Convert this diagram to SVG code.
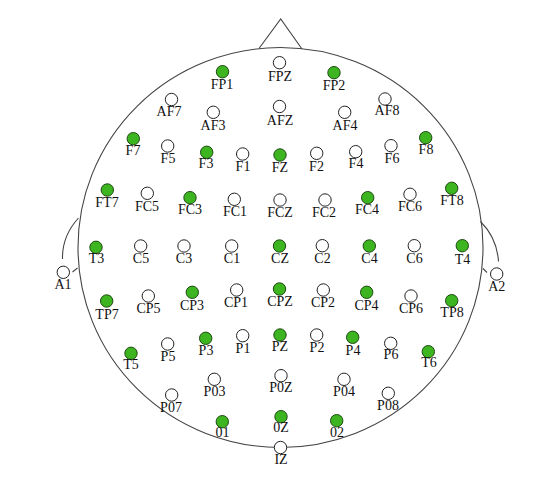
<svg xmlns="http://www.w3.org/2000/svg" width="546" height="481" viewBox="0 0 546 481">
<style>
.o{fill:#fff;stroke:#222;stroke-width:1}
.g{fill:#3cb521;stroke:#1e4a12;stroke-width:1}
.l{fill:none;stroke:#444;stroke-width:1.1}
text{font-family:"Liberation Serif","Times New Roman",serif;font-size:14px;fill:#111;text-anchor:middle}
</style>
<rect width="546" height="481" fill="#fff"/>
<g id="head">
<ellipse class="l" cx="280.5" cy="247.5" rx="202.5" ry="200"/>
<path class="l" d="M259,48.5 L280.7,19 L302,49"/>
<path class="l" d="M78.5,218 Q62,236 62.5,259"/>
<path class="l" d="M72.5,272 L77.5,268"/>
<path class="l" d="M480.5,221.5 Q497,238 498.5,261.5"/>
<path class="l" d="M483,268.5 L487,272.5"/>
</g>
<g id="connectors"></g>
<g id="FP1"><circle class="g" cx="222.5" cy="71.7" r="6.2"/><text x="222" y="89">FP1</text></g>
<g id="FPZ"><circle class="o" cx="279.5" cy="62.7" r="6.2"/><text x="280" y="81">FPZ</text></g>
<g id="FP2"><circle class="g" cx="334" cy="72.7" r="6.2"/><text x="334" y="90">FP2</text></g>
<g id="AF7"><circle class="o" cx="171.5" cy="99.5" r="6.2"/><text x="169" y="116">AF7</text></g>
<g id="AF3"><circle class="o" cx="213.3" cy="112.3" r="6.2"/><text x="213" y="130">AF3</text></g>
<g id="AFZ"><circle class="o" cx="279.5" cy="106.5" r="6.2"/><text x="280" y="125">AFZ</text></g>
<g id="AF4"><circle class="o" cx="344.7" cy="112.3" r="6.2"/><text x="345" y="130">AF4</text></g>
<g id="AF8"><circle class="o" cx="385" cy="99" r="6.2"/><text x="387" y="115">AF8</text></g>
<g id="F7"><circle class="g" cx="133.3" cy="138.7" r="6.2"/><text x="133" y="155">F7</text></g>
<g id="F5"><circle class="o" cx="167.7" cy="146" r="6.2"/><text x="168" y="163.3">F5</text></g>
<g id="F3"><circle class="g" cx="206.7" cy="152.3" r="6.2"/><text x="206" y="168.3">F3</text></g>
<g id="F1"><circle class="o" cx="242.7" cy="154" r="6.2"/><text x="243" y="170.7">F1</text></g>
<g id="FZ"><circle class="g" cx="280" cy="155" r="6.2"/><text x="280" y="172.3">FZ</text></g>
<g id="F2"><circle class="o" cx="316.7" cy="153.3" r="6.2"/><text x="316.5" y="170.7">F2</text></g>
<g id="F4"><circle class="o" cx="355.7" cy="151.7" r="6.2"/><text x="356" y="168.3">F4</text></g>
<g id="F6"><circle class="o" cx="391" cy="145.7" r="6.2"/><text x="392" y="163.3">F6</text></g>
<g id="F8"><circle class="g" cx="425.7" cy="137.7" r="6.2"/><text x="426" y="154">F8</text></g>
<g id="FT7"><circle class="g" cx="107.3" cy="190" r="6.2"/><text x="107" y="206.7">FT7</text></g>
<g id="FC5"><circle class="o" cx="147.3" cy="193.3" r="6.2"/><text x="147" y="211">FC5</text></g>
<g id="FC3"><circle class="g" cx="190" cy="197.7" r="6.2"/><text x="190" y="214.3">FC3</text></g>
<g id="FC1"><circle class="o" cx="234.3" cy="199.3" r="6.2"/><text x="235" y="216">FC1</text></g>
<g id="FCZ"><circle class="o" cx="280" cy="200" r="6.2"/><text x="280" y="217.3">FCZ</text></g>
<g id="FC2"><circle class="o" cx="325" cy="200" r="6.2"/><text x="324" y="216.7">FC2</text></g>
<g id="FC4"><circle class="g" cx="367.7" cy="197.7" r="6.2"/><text x="367" y="214.3">FC4</text></g>
<g id="FC6"><circle class="o" cx="410" cy="194.3" r="6.2"/><text x="410" y="211">FC6</text></g>
<g id="FT8"><circle class="g" cx="451.7" cy="188.3" r="6.2"/><text x="452" y="205">FT8</text></g>
<g id="A1"><circle class="o" cx="63.3" cy="272.3" r="6.2"/><text x="63" y="289.3">A1</text></g>
<g id="T3"><circle class="g" cx="96" cy="247.3" r="6.2"/><text x="96.5" y="263.3">T3</text></g>
<g id="C5"><circle class="o" cx="140.7" cy="246" r="6.2"/><text x="141" y="263.3">C5</text></g>
<g id="C3"><circle class="o" cx="184" cy="246" r="6.2"/><text x="184" y="263.3">C3</text></g>
<g id="C1"><circle class="o" cx="231.7" cy="246" r="6.2"/><text x="232" y="263.3">C1</text></g>
<g id="CZ"><circle class="g" cx="279.5" cy="246" r="6.2"/><text x="280" y="263.3">CZ</text></g>
<g id="C2"><circle class="o" cx="322.3" cy="245.7" r="6.2"/><text x="322.5" y="263.3">C2</text></g>
<g id="C4"><circle class="g" cx="369.3" cy="246" r="6.2"/><text x="369.5" y="263.3">C4</text></g>
<g id="C6"><circle class="o" cx="414.3" cy="245.7" r="6.2"/><text x="414.5" y="263.3">C6</text></g>
<g id="T4"><circle class="g" cx="462.3" cy="245.7" r="6.2"/><text x="462.5" y="264">T4</text></g>
<g id="A2"><circle class="o" cx="496.7" cy="274" r="6.2"/><text x="496.7" y="291">A2</text></g>
<g id="TP7"><circle class="g" cx="106.7" cy="301" r="6.2"/><text x="107" y="319">TP7</text></g>
<g id="CP5"><circle class="o" cx="148.3" cy="296" r="6.2"/><text x="148.5" y="312.7">CP5</text></g>
<g id="CP3"><circle class="g" cx="192.3" cy="292.3" r="6.2"/><text x="192" y="310">CP3</text></g>
<g id="CP1"><circle class="o" cx="236.7" cy="290" r="6.2"/><text x="236" y="307.3">CP1</text></g>
<g id="CPZ"><circle class="g" cx="279.5" cy="289" r="6.2"/><text x="280" y="305.7">CPZ</text></g>
<g id="CP2"><circle class="o" cx="323.3" cy="290" r="6.2"/><text x="323" y="307.3">CP2</text></g>
<g id="CP4"><circle class="g" cx="366.7" cy="292.3" r="6.2"/><text x="366.5" y="310">CP4</text></g>
<g id="CP6"><circle class="o" cx="411" cy="296" r="6.2"/><text x="411" y="312.7">CP6</text></g>
<g id="TP8"><circle class="g" cx="451.7" cy="300.7" r="6.2"/><text x="452" y="317.3">TP8</text></g>
<g id="T5"><circle class="g" cx="131" cy="353.3" r="6.2"/><text x="131" y="369.3">T5</text></g>
<g id="P5"><circle class="o" cx="167.7" cy="344" r="6.2"/><text x="168" y="360.7">P5</text></g>
<g id="P3"><circle class="g" cx="205.7" cy="338.3" r="6.2"/><text x="206" y="355">P3</text></g>
<g id="P1"><circle class="o" cx="242.7" cy="335.7" r="6.2"/><text x="243" y="352.7">P1</text></g>
<g id="PZ"><circle class="g" cx="280" cy="335" r="6.2"/><text x="280" y="350.7">PZ</text></g>
<g id="P2"><circle class="o" cx="316.7" cy="335" r="6.2"/><text x="317" y="351.7">P2</text></g>
<g id="P4"><circle class="g" cx="352.7" cy="337.3" r="6.2"/><text x="353" y="355">P4</text></g>
<g id="P6"><circle class="o" cx="390.7" cy="343.3" r="6.2"/><text x="391" y="359.3">P6</text></g>
<g id="T6"><circle class="g" cx="428.3" cy="351.7" r="6.2"/><text x="429" y="367.3">T6</text></g>
<g id="P07"><circle class="o" cx="171.7" cy="395" r="6.2"/><text x="171" y="411.7">P07</text></g>
<g id="P03"><circle class="o" cx="214.3" cy="379.3" r="6.2"/><text x="214.5" y="395.7">P03</text></g>
<g id="P0Z"><circle class="o" cx="281" cy="375.7" r="6.2"/><text x="281" y="392.3">P0Z</text></g>
<g id="P04"><circle class="o" cx="344" cy="379.3" r="6.2"/><text x="344" y="395.7">P04</text></g>
<g id="P08"><circle class="o" cx="388.3" cy="393.3" r="6.2"/><text x="388" y="410">P08</text></g>
<g id="O1"><circle class="g" cx="222.3" cy="421.7" r="6.2"/><text x="222.5" y="437.3">01</text></g>
<g id="OZ"><circle class="g" cx="281" cy="416.7" r="6.2"/><text x="281" y="432.3">0Z</text></g>
<g id="O2"><circle class="g" cx="336.7" cy="420.7" r="6.2"/><text x="337" y="437.3">02</text></g>
<g id="IZ"><circle class="o" cx="280.5" cy="447.5" r="6.2"/><text x="281" y="464">IZ</text></g>
</svg>
